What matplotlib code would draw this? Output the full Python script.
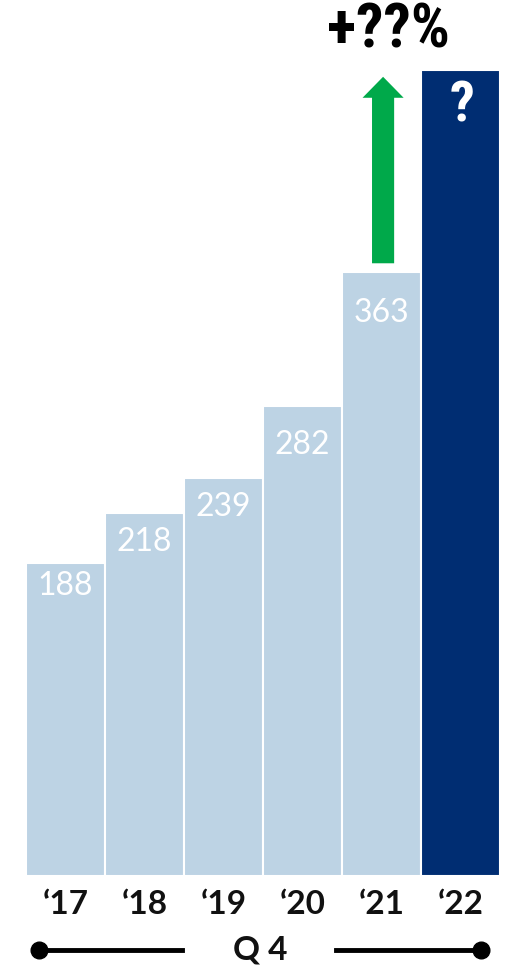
import matplotlib
matplotlib.use("Agg")
import matplotlib.pyplot as plt
from matplotlib.patches import FancyArrow
from matplotlib.lines import Line2D
from matplotlib import font_manager

years = ["\u201817", "\u201818", "\u201819", "\u201820", "\u201821", "\u201822"]
values = [188, 218, 239, 282, 363, 484]
labels = ["188", "218", "239", "282", "363", "?"]
label_drop_px = [23, 29, 29, 39, 41, 36]
light = "#BDD3E4"
dark = "#002D72"
colors = [light] * 5 + [dark]

names = {f.name for f in font_manager.fontManager.ttflist}
cond_fam = "DejaVu Sans"
cond_kw = dict(fontstretch="condensed")
for cand in ["Liberation Sans Narrow", "Roboto Condensed", "Open Sans Condensed"]:
    if cand in names:
        cond_fam = cand
        cond_kw = {}
        break

W, H = 506, 967
fig = plt.figure(figsize=(W / 100, H / 100), dpi=100)
base_px = 876
left_px, right_px = 26, 500
ax = fig.add_axes([left_px / W, (H - base_px) / H, (right_px - left_px) / W, base_px / H])
scale = 1.665
ax.set_xlim(-0.5, 5.5)
ax.set_ylim(0, base_px / scale)
ax.axis("off")

x = list(range(len(values)))
ax.bar(x, values, width=1.0, color=colors, edgecolor="white", linewidth=1.5)

for i, (v, lab) in enumerate(zip(values, labels)):
    if i < 5:
        ax.annotate(lab, (i, v), xytext=(0, -label_drop_px[i]), textcoords="offset pixels",
                    ha="center", va="center", color="white", fontsize=23,
                    family="Lato")
    else:
        ax.annotate(lab, (i + 0.02, v), xytext=(0, -label_drop_px[i]), textcoords="offset pixels",
                    ha="center", va="center", color="white", fontsize=40,
                    family=cond_fam, fontweight="bold", **cond_kw)

for i, y in enumerate(years):
    fig.text((left_px + 79 * (i + 0.5)) / W, 1 - 904 / H, y, ha="center", va="center",
             fontsize=24, fontweight="bold", family="Lato", color="#111111")

# growth arrow from '21 bar toward '22 level
start = values[4] + 5
end = values[5] - 4
ax.add_patch(FancyArrow(4.02, start, 0, end - start, width=0.28, head_width=0.52,
                        head_length=12.6, length_includes_head=True,
                        color="#00A94A", linewidth=0))

fig.text(388 / W, 1 - 31 / H, "+??%", ha="center", va="center", fontsize=44,
         fontweight="bold", family=cond_fam, color="black", **cond_kw)

# Q4 bracket
yq = 1 - 950 / H
fig.add_artist(Line2D([39 / W, 182 / W], [yq, yq], color="black", lw=3.5))
fig.add_artist(Line2D([336 / W, 481 / W], [yq, yq], color="black", lw=3.5))
fig.add_artist(Line2D([39 / W], [yq], marker="o", markersize=12, color="black"))
fig.add_artist(Line2D([481 / W], [yq], marker="o", markersize=12, color="black"))
fig.text(260 / W, 1 - 950 / H, "Q 4", ha="center", va="center", fontsize=24,
         fontweight="bold", family="Lato", color="#111111")

fig.savefig("out.png", dpi=100)
